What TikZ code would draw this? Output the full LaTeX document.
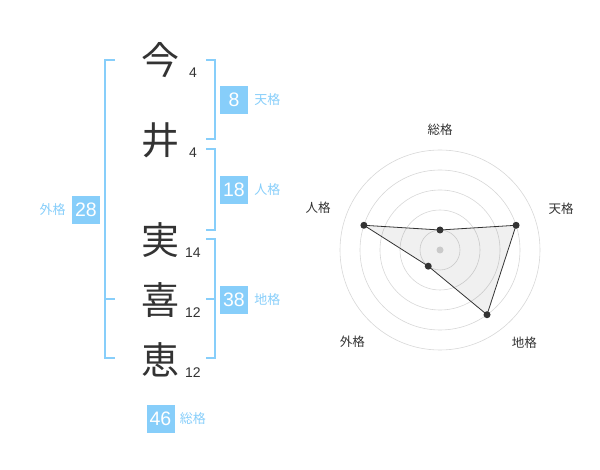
\documentclass[tikz,border=0pt]{standalone}
\usepackage{fontspec}
\usetikzlibrary{positioning}
\setmainfont{Liberation Sans}
\newfontfamily\jpfont{Noto Sans CJK JP}
\definecolor{skyblue}{RGB}{135,206,250}
\definecolor{inkgray}{RGB}{51,51,51}
\definecolor{ringgray}{RGB}{215,215,215}

\begin{document}
\begin{tikzpicture}[x=1pt,y=-1pt,
  kanji/.style={font=\jpfont\fontsize{38}{38}\selectfont, text=inkgray, inner sep=0pt},
  strokes/.style={font=\fontsize{14}{14}\selectfont, text=inkgray, inner sep=0pt},
  bracket/.style={draw=skyblue, line width=2pt},
  score/.style={fill=skyblue, text=white, minimum size=28pt, inner sep=0pt, font=\fontsize{19.5}{19.5}\selectfont},
  kaku/.style={text=skyblue, font=\jpfont\fontsize{13}{13}\selectfont, inner sep=0pt},
  axislabel/.style={text=inkgray, font=\jpfont\fontsize{12.5}{12.5}\selectfont, inner sep=0pt},
  dot/.style={fill=inkgray}]
\useasboundingbox (0,0) rectangle (600,470);
% name and stroke counts
\node[kanji] (c1) at (160,60) {今};
\node[kanji] (c2) at (160,140) {井};
\node[kanji] (c3) at (160,240) {実};
\node[kanji] (c4) at (160,300) {喜};
\node[kanji] (c5) at (160,360) {恵};
\node[strokes] (s1) at (193,73) {4};
\node[strokes] (s2) at (193,153) {4};
\node[strokes] (s3) at (193,253) {14};
\node[strokes] (s4) at (193,313) {12};
\node[strokes] (s5) at (193,373) {12};
% brackets
\draw[bracket] (115,60) -- (105,60) -- (105,358) -- (115,358);
\draw[bracket] (105,299) -- (115,299);
\draw[bracket] (206,60) -- (215,60) -- (215,139) -- (206,139);
\draw[bracket] (206,149) -- (215,149) -- (215,230) -- (206,230);
\draw[bracket] (206,239) -- (215,239) -- (215,358) -- (206,358);
\draw[bracket] (215,299) -- (206,299);
% scores
\node[score] (ten) at (234,100) {8};
\node[kaku, right=6pt of ten] (tenl) {天格};
\node[score] (jin) at (234,190) {18};
\node[kaku, right=6pt of jin] (jinl) {人格};
\node[score] (chi) at (234,300) {38};
\node[kaku, right=6pt of chi] (chil) {地格};
\node[score] (gai) at (86,210) {28};
\node[kaku, left=6pt of gai] (gail) {外格};
\node[score] (sou) at (160.5,419) {46};
\node[kaku, right=5pt of sou] (soul) {総格};
% radar chart
\begin{scope}[shift={(440,250)}, yscale=-1]
\foreach \r in {20,40,...,100}
  \draw[ringgray, line width=0.6pt] (0,0) circle[radius=\r pt];
\fill[ringgray] (0,0) circle[radius=3.5pt];
\coordinate (psou) at (90:20);
\coordinate (pten) at (18:80);
\coordinate (pchi) at (-54:80);
\coordinate (pgai) at (-126:20);
\coordinate (pjin) at (162:80);
\filldraw[fill=black, fill opacity=0.06, draw=inkgray, line width=0.8pt]
  (psou) -- (pten) -- (pchi) -- (pgai) -- (pjin) -- cycle;
\foreach \p in {psou,pten,pchi,pgai,pjin}
  \fill[dot] (\p) circle[radius=3.5pt];
\node[axislabel] (lsou) at (90:120) {総格};
\node[axislabel] (lten) at (19:128) {天格};
\node[axislabel] (lchi) at (-47.6:125) {地格};
\node[axislabel] (lgai) at (-133.7:127) {外格};
\node[axislabel] (ljin) at (161:129) {人格};
\end{scope}
\end{tikzpicture}
\end{document}
